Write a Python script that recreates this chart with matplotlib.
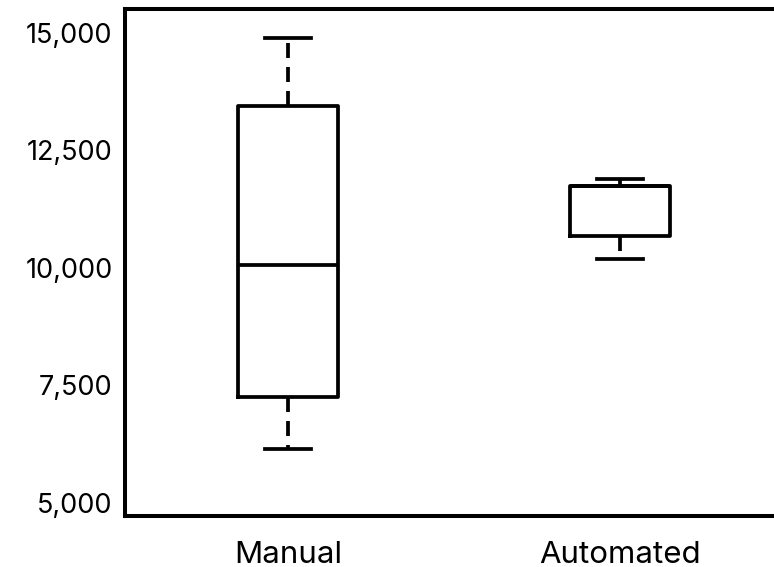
import matplotlib
matplotlib.use("Agg")
import matplotlib.pyplot as plt
from matplotlib.ticker import FuncFormatter

categories = ["Manual", "Automated"]
whisker_low = [6150, 10200]
q1 = [7250, 10680]
median = [10060, 11750]
q3 = [13450, 11750]
whisker_high = [14900, 11900]
yticks = [5000, 7500, 10000, 12500, 15000]

plt.rcParams['font.family'] = ['Inter', 'DejaVu Sans']

fig = plt.figure(figsize=(7.74, 5.67), dpi=100)
ax = fig.add_axes([0.1615, 0.0899, 0.858, 0.8942])

stats = []
for i, c in enumerate(categories):
    stats.append(dict(label=c, whislo=whisker_low[i], q1=q1[i], med=median[i],
                      q3=q3[i], whishi=whisker_high[i], fliers=[]))

lw = 2.7
ax.bxp(stats, positions=[1, 2], widths=0.3, capwidths=0.14, showfliers=False,
       boxprops=dict(color='black', linewidth=lw),
       medianprops=dict(color='black', linewidth=lw),
       whiskerprops=dict(color='black', linewidth=lw, linestyle=(0, (4, 2.4))),
       capprops=dict(color='black', linewidth=lw))

ax.set_xlim(0.509, 2.509)
ax.set_ylim(4720, 15510)
ax.set_yticks(yticks)
ax.yaxis.set_major_formatter(FuncFormatter(lambda v, p: f"{int(v):,}"))
ax.tick_params(axis='both', length=0)
ax.tick_params(axis='y', pad=9, labelsize=19.5)
ax.tick_params(axis='x', pad=18, labelsize=22.5)
for s in ax.spines.values():
    s.set_linewidth(2.9)
    s.set_color('black')

fig.savefig("out.png", dpi=100)
